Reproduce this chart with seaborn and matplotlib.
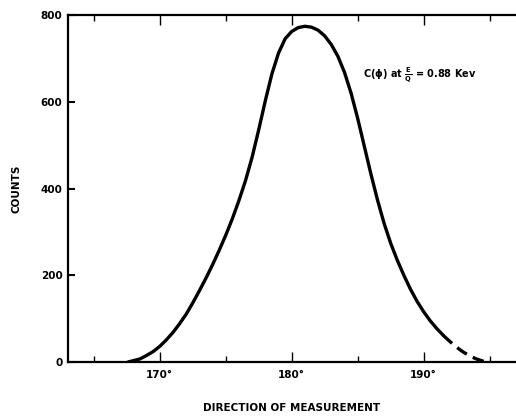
import matplotlib
matplotlib.use("Agg")
import matplotlib.pyplot as plt
import seaborn as sns
import pandas as pd

# Solid part of the curve (direction in degrees, counts)
angle_solid = [167.6, 168.5, 169.0, 169.5, 170.0, 170.5, 171.0, 171.5, 172.0, 172.5,
               173.0, 173.5, 174.0, 174.5, 175.0, 175.5, 176.0, 176.5, 177.0, 177.5,
               178.0, 178.5, 179.0, 179.5, 180.0, 180.5, 181.0, 181.5, 182.0, 182.5,
               183.0, 183.5, 184.0, 184.5, 185.0, 185.5, 186.0, 186.5, 187.0, 187.5,
               188.0, 188.5, 189.0, 189.5, 190.0, 190.5, 191.0, 191.5]
counts_solid = [0, 7, 15, 24, 36, 51, 68, 88, 110, 136,
                164, 193, 224, 257, 292, 330, 372, 418, 472, 535,
                602, 664, 712, 745, 762, 771, 774, 772, 765, 752,
                732, 705, 668, 620, 562, 498, 434, 374, 320, 274,
                235, 200, 168, 140, 116, 95, 77, 61]
# Dashed (extrapolated) tail
angle_dashed = [191.5, 192.0, 192.5, 193.0, 193.5, 194.0, 194.6]
counts_dashed = [61, 47, 34, 23, 14, 7, 1]

xticks = [170, 180, 190]
xtick_labels = ["170°", "180°", "190°"]
yticks = [0, 200, 400, 600, 800]
ytick_labels = ["0", "200", "400", "600", "800"]

sns.set_style("ticks")
plt.rcParams["font.family"] = ["DejaVu Sans"]
plt.rcParams["mathtext.default"] = "bf"

fig = plt.figure(figsize=(5.16, 4.19), dpi=100)
ax = fig.add_axes([68 / 516, 1 - 362 / 419, 1 - 68 / 516, (362 - 15) / 419])

df_s = pd.DataFrame({"angle": angle_solid, "counts": counts_solid})
df_d = pd.DataFrame({"angle": angle_dashed, "counts": counts_dashed})
sns.lineplot(data=df_s, x="angle", y="counts", ax=ax, color="black", lw=2.4, sort=False)
sns.lineplot(data=df_d, x="angle", y="counts", ax=ax, color="black", lw=2.4, sort=False,
             linestyle=(0, (3.5, 2)))

ax.set_xlim(163.05, 197.0)
ax.set_ylim(0, 800)
ax.set_xticks(xticks)
ax.set_xticklabels(xtick_labels, fontsize=7.5, fontweight="bold", color="black")
ax.set_xticks([165, 175, 185, 195], minor=True)
ax.set_yticks(yticks)
ax.set_yticklabels(ytick_labels, fontsize=7.5, fontweight="bold", color="black")

ax.tick_params(axis="x", which="major", direction="in", length=7, width=1.0, top=True,
               pad=6, color="black")
ax.tick_params(axis="x", which="minor", direction="in", length=4, width=1.0, top=True,
               color="black")
ax.tick_params(axis="y", which="major", direction="in", length=5, width=1.5, pad=4,
               color="black")

for s in ["left", "bottom", "top"]:
    ax.spines[s].set_linewidth(1.6)
    ax.spines[s].set_color("black")
ax.spines["right"].set_visible(False)

ax.set_xlabel("DIRECTION OF MEASUREMENT", fontsize=7.5, fontweight="bold", labelpad=16,
              color="black")
ax.set_ylabel("COUNTS", fontsize=7.5, fontweight="bold", labelpad=14, color="black")

ax.text(185.4, 662, r"C($\phi$) at $\frac{E}{Q}$ = 0.88 Kev", fontsize=7,
        fontweight="bold", va="center", ha="left", color="black")

fig.savefig("out.png", dpi=100)
